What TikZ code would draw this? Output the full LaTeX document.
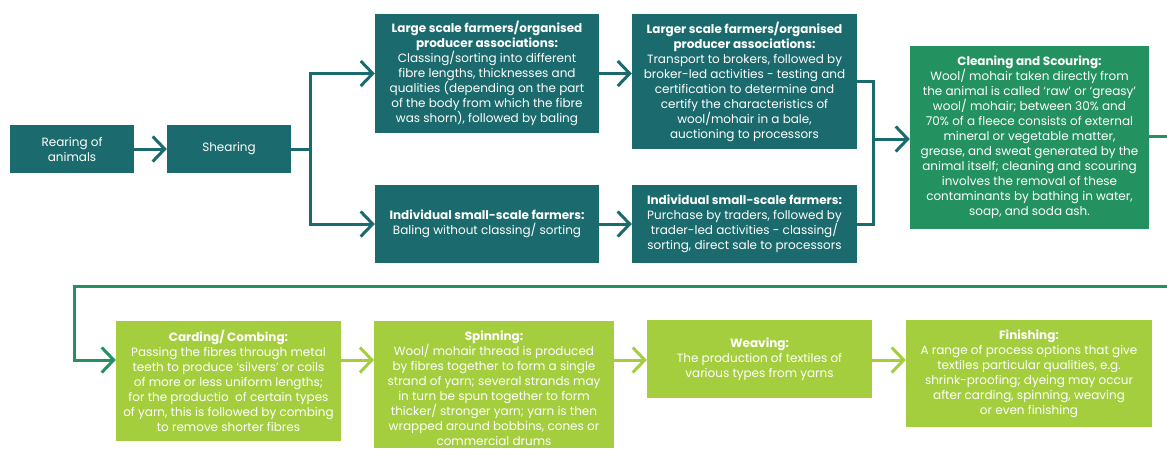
\documentclass[tikz,border=0pt]{standalone}
\usepackage{fontspec}
\setmainfont{Poppins}
\usetikzlibrary{arrows.meta}
\definecolor{teal1}{RGB}{27,107,110}
\definecolor{green1}{RGB}{35,146,96}
\definecolor{lime1}{RGB}{164,206,62}
\newcommand{\hd}[1]{\textbf{#1}}
\tikzset{
  box/.style={inner sep=1pt, align=center, text=white, font=\fontsize{12}{15}\selectfont},
  tbox/.style={box, fill=teal1},
  gbox/.style={box, fill=green1},
  lbox/.style={box, fill=lime1},
  ln/.style={line width=3pt},
  arr/.style={ln, -{Straight Barb[length=12pt,width=25pt]}},
}
\begin{document}
\begin{tikzpicture}[x=1pt,y=-1pt]
\useasboundingbox (0,0) rectangle (1167,448);
% top row
\node[tbox, minimum width=124pt, minimum height=48pt] (rear) at (72,149) {Rearing of\\animals};
\node[tbox, minimum width=124pt, minimum height=48pt] (shear) at (229,149) {Shearing};
\node[tbox, minimum width=224pt, minimum height=119pt] (large) at (487,73.5) {\hd{Large scale farmers/organised}\\\hd{producer associations:}\\Classing/sorting into different\\fibre lengths, thicknesses and\\qualities (depending on the part\\of the body from which the fibre\\was shorn), followed by baling};
\node[tbox, minimum width=224pt, minimum height=78pt] (small1) at (487,224) {\hd{Individual small-scale farmers:}\\Baling without classing/ sorting};
\node[tbox, minimum width=225pt, minimum height=135pt] (larger) at (744.5,81.5) {\hd{Larger scale farmers/organised}\\\hd{producer associations:}\\Transport to brokers, followed by\\broker-led activities - testing and\\certification to determine and\\certify the characteristics of\\wool/mohair in a bale,\\auctioning to processors};
\node[tbox, minimum width=225pt, minimum height=78pt] (small2) at (744.5,224) {\hd{Individual small-scale farmers:}\\Purchase by traders, followed by\\trader-led activities - classing/\\sorting, direct sale to processors};
\node[gbox, minimum width=239pt, minimum height=183pt] (clean) at (1029.5,137.5) {\hd{Cleaning and Scouring:}\\Wool/ mohair taken directly from\\the animal is called ‘raw’ or ‘greasy’\\wool/ mohair; between 30\% and\\70\% of a fleece consists of external\\mineral or vegetable matter,\\grease, and sweat generated by the\\animal itself; cleaning and scouring\\involves the removal of these\\contaminants by bathing in water,\\soap, and soda ash.};
% bottom row
\node[lbox, minimum width=225pt, minimum height=120pt] (card) at (228.5,381) {\hd{Carding/ Combing:}\\Passing the fibres through metal\\teeth to produce ‘silvers’ or coils\\of more or less uniform lengths;\\for the productio\ \ of certain types\\of yarn, this is followed by combing\\to remove shorter fibres};
\fill[lime1] (374,321) rectangle (614,448);
\node[box] (spin) at (494,388) {\hd{Spinning:}\\Wool/ mohair thread is produced\\by fibres together to form a single\\strand of yarn; several strands may\\in turn be spun together to form\\thicker/ stronger yarn; yarn is then\\wrapped around bobbins, cones or\\commercial drums};
\coordinate (spinW) at (374,360);
\coordinate (spinE) at (614,360);
\node[lbox, minimum width=225pt, minimum height=78pt] (weave) at (759.5,359) {\hd{Weaving:}\\The production of textiles of\\various types from yarns};
\node[lbox, minimum width=246pt, minimum height=107pt] (finish) at (1029,373.5) {\hd{Finishing:}\\A range of process options that give\\textiles particular qualities, e.g.\\shrink-proofing; dyeing may occur\\after carding, spinning, weaving\\or even finishing};
% connectors top
\draw[arr, teal1] (rear) -- (shear);
\coordinate (sj) at (310,149);
\draw[arr, teal1] (shear.east) -- (sj) |- (large.west);
\draw[arr, teal1] (shear.east) -- (sj) |- (small1.west);
\draw[arr, teal1] (large) -- (large -| larger.west);
\draw[arr, teal1] (small1) -- (small2);
\coordinate (mj) at (873,139);
\draw[ln, teal1] (larger.east) -| (mj) |- (small2.east);
\draw[arr, teal1] (mj) -- (mj -| clean.west);
% return path
\coordinate (outR) at (1167,136);
\coordinate (inR) at (1167,286);
\coordinate (rc) at (74,286);
\draw[ln, green1] (clean.east |- outR) -- (outR);
\draw[arr, green1] (inR) -- (rc) |- (card.west |- spinW);
% bottom connectors
\draw[arr, lime1] (card.east |- spinW) -- (spinW);
\draw[arr, lime1] (spinE) -- (weave.west |- spinE);
\draw[arr, lime1] (weave.east |- spinE) -- (finish.west |- spinE);
\end{tikzpicture}
\end{document}
